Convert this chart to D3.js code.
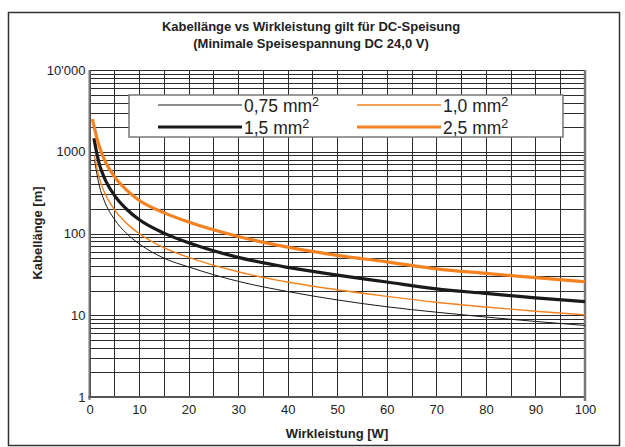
<!DOCTYPE html>
<html lang="de">
<head>
  <meta charset="UTF-8">
  <title>Kabellänge vs Wirkleistung</title>
  <style>
    body { margin: 0; background: #ffffff; }
    svg { font-family: "Liberation Sans", Arial, sans-serif; }
    .grid line { stroke: #2b2b2b; stroke-width: 1; shape-rendering: crispEdges; }
    .tick-label { font-size: 13px; fill: #222; }
  </style>
  <script type="text/javascript" src="https://d3js.org/d3.v7.min.js"></script>
</head>
<body>
<script type="text/javascript">

  // Wirkleistung [W] sample points, per series
  var power_075 = [1, 2, 3, 5, 7.5, 10, 15, 20, 30, 40, 50, 60, 70, 80, 90, 100];
  var length_075 = [800, 380, 250, 150, 100, 75, 50, 39, 26, 19.5, 15.4, 12.7, 10.9, 9.5, 8.4, 7.5];

  var power_10 = [1, 2, 3, 5, 7.5, 10, 15, 20, 30, 40, 50, 60, 70, 80, 90, 100];
  var length_10 = [900, 470, 320, 197, 133, 100, 67, 51, 34, 25.5, 20.5, 17, 14.4, 12.6, 11.2, 10.1];

  var power_15 = [0.9, 1, 2, 3, 5, 7.5, 10, 15, 20, 30, 40, 50, 60, 70, 80, 90, 100];
  var length_15 = [1460, 1350, 700, 480, 295, 198, 148, 101, 77, 51, 38.5, 31, 25.5, 21, 18.5, 16.3, 14.7];

  var power_25 = [0.6, 1, 2, 3, 5, 7.5, 10, 15, 20, 30, 40, 50, 60, 70, 80, 90, 100];
  var length_25 = [2500, 1950, 1150, 800, 500, 340, 255, 180, 138, 92, 68, 54, 45, 37, 32.5, 28.8, 25.7];

  var x_ticks = [0, 10, 20, 30, 40, 50, 60, 70, 80, 90, 100];
  var y_ticks = [1, 10, 100, 1000, 10000];
  var y_tick_labels = ["1", "10", "100", "1000", "10'000"];

  var series = [
    {name: "0,75", p: power_075, l: length_075, color: "#1a1a1a", width: 1},
    {name: "1,0", p: power_10, l: length_10, color: "#f58220", width: 1.4},
    {name: "1,5", p: power_15, l: length_15, color: "#1a1a1a", width: 3.2},
    {name: "2,5", p: power_25, l: length_25, color: "#f58220", width: 3.2}
  ];

  var svg = d3.select("body")
    .append("svg")
    .attr("width", 625)
    .attr("height", 447);

  // outer frame
  svg.append("rect")
    .attr("x", 8.5).attr("y", 12.5)
    .attr("width", 611).attr("height", 433)
    .attr("fill", "none")
    .attr("stroke", "#333")
    .attr("stroke-width", 1.5);

  var x = d3.scaleLinear().domain([0, 100]).range([89.5, 585]);
  var y = d3.scaleLog().domain([1, 10000]).range([397, 70]);

  // grid
  var grid = svg.append("g").attr("class", "grid");

  var x_grid = d3.range(0, 101, 5);
  grid.selectAll("line.v").data(x_grid).enter()
    .append("line").attr("class", "v")
    .attr("x1", function(d) { return Math.round(x(d)) + 0.5; })
    .attr("x2", function(d) { return Math.round(x(d)) + 0.5; })
    .attr("y1", y(10000)).attr("y2", y(1));

  var y_grid = [];
  [1, 10, 100, 1000].forEach(function(dec) {
    for (var m = 1; m < 10; m++) y_grid.push(m * dec);
  });
  y_grid.push(10000);
  grid.selectAll("line.h").data(y_grid).enter()
    .append("line").attr("class", "h")
    .attr("x1", x(0)).attr("x2", x(100))
    .attr("y1", function(d) { return Math.round(y(d)) + 0.5; })
    .attr("y2", function(d) { return Math.round(y(d)) + 0.5; });

  // axis frame lines (left, bottom, right)
  svg.append("line")
    .attr("x1", x(0)).attr("x2", x(0)).attr("y1", y(10000)).attr("y2", y(1) + 3)
    .attr("stroke", "#777").attr("stroke-width", 2);
  svg.append("line")
    .attr("x1", x(0) - 1).attr("x2", x(100) + 1).attr("y1", y(1)).attr("y2", y(1))
    .attr("stroke", "#555").attr("stroke-width", 2);
  svg.append("line")
    .attr("x1", x(100)).attr("x2", x(100)).attr("y1", y(10000)).attr("y2", y(1) + 4)
    .attr("stroke", "#777").attr("stroke-width", 2.5);

  // axes labels via d3 axes
  var y_axis = d3.axisLeft(y)
    .tickValues(y_ticks)
    .tickSize(0)
    .tickPadding(4)
    .tickFormat(function(d, i) { return y_tick_labels[i]; });
  var gy = svg.append("g").attr("transform", "translate(" + x(0) + ",0)").call(y_axis);
  gy.select(".domain").remove();
  gy.selectAll("text").attr("class", "tick-label").attr("font-family", null).attr("font-size", null);

  var x_axis = d3.axisBottom(x)
    .tickValues(x_ticks)
    .tickSize(0)
    .tickPadding(8);
  var gx = svg.append("g").attr("transform", "translate(0," + y(1) + ")").call(x_axis);
  gx.select(".domain").remove();
  gx.selectAll("text").attr("class", "tick-label").attr("font-family", null).attr("font-size", null);

  // curves
  var line = d3.line()
    .x(function(d) { return x(d[0]); })
    .y(function(d) { return y(d[1]); })
    .curve(d3.curveMonotoneX);

  svg.append("g").selectAll("path").data(series).enter()
    .append("path")
    .attr("d", function(s) { return line(d3.zip(s.p, s.l)); })
    .attr("fill", "none")
    .attr("stroke", function(s) { return s.color; })
    .attr("stroke-width", function(s) { return s.width; });

  // legend
  var legend = svg.append("g");
  legend.append("rect")
    .attr("x", 129).attr("y", 95)
    .attr("width", 434).attr("height", 42)
    .attr("fill", "#fff")
    .attr("stroke", "#777")
    .attr("stroke-width", 1.5);

  var legend_pos = [
    {x: 158, y: 105}, {x: 357, y: 105},
    {x: 158, y: 127}, {x: 357, y: 127}
  ];
  series.forEach(function(s, i) {
    var pos = legend_pos[i];
    legend.append("line")
      .attr("x1", pos.x).attr("x2", pos.x + 84)
      .attr("y1", pos.y).attr("y2", pos.y)
      .attr("stroke", s.color).attr("stroke-width", s.width);
    var t = legend.append("text")
      .attr("x", pos.x + 86).attr("y", pos.y + 6.5)
      .attr("font-size", 17.5).attr("fill", "#222");
    t.append("tspan").text(s.name + " mm");
    t.append("tspan").attr("dy", -6).attr("font-size", 12.5).text("2");
  });

  // titles
  svg.append("text")
    .attr("x", 311).attr("y", 31)
    .attr("text-anchor", "middle")
    .attr("font-size", 13).attr("font-weight", "bold").attr("fill", "#222")
    .text("Kabellänge vs Wirkleistung gilt für DC-Speisung");
  svg.append("text")
    .attr("x", 311).attr("y", 48)
    .attr("text-anchor", "middle")
    .attr("font-size", 13).attr("font-weight", "bold").attr("fill", "#222")
    .text("(Minimale Speisespannung DC 24,0 V)");

  svg.append("text")
    .attr("x", 337).attr("y", 438)
    .attr("text-anchor", "middle")
    .attr("font-size", 13).attr("font-weight", "bold").attr("fill", "#222")
    .text("Wirkleistung [W]");

  svg.append("text")
    .attr("transform", "translate(42,233) rotate(-90)")
    .attr("text-anchor", "middle")
    .attr("font-size", 13).attr("font-weight", "bold").attr("fill", "#222")
    .text("Kabellänge [m]");

</script>
</body>
</html>
